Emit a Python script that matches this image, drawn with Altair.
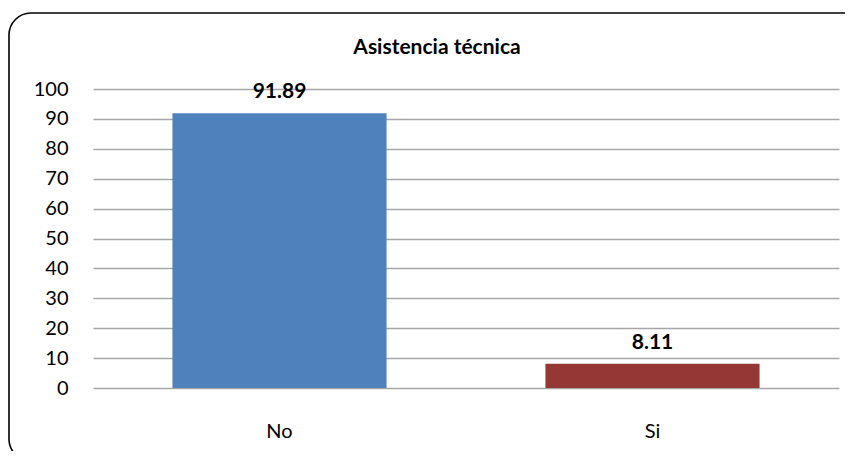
import altair as alt
import pandas as pd

categories = ["No", "Si"]
values = [91.89, 8.11]
labels = ["91.89", "8.11"]
colors = ["#4F81BD", "#953735"]
y_ticks = [0, 10, 20, 30, 40, 50, 60, 70, 80, 90, 100]

df = pd.DataFrame({"cat": categories, "val": values, "lab": labels, "col": colors})

FONT = "Lato"

x = alt.X("cat:N", sort=categories, title=None,
          scale=alt.Scale(paddingInner=0.426, paddingOuter=0.213),
          axis=alt.Axis(labelAngle=0, labelPadding=33, labelFontSize=20, labelFont=FONT,
                        labelColor="#000000", ticks=False, domain=False, grid=False, zindex=1))
y = alt.Y("val:Q", title=None,
          scale=alt.Scale(domain=[0, 100], nice=False),
          axis=alt.Axis(values=y_ticks, labelPadding=25, labelFontSize=20, labelOverlap=False,
                        labelFont=FONT, labelColor="#000000", ticks=False, domain=False,
                        grid=True, gridColor="#a6a6a6", gridWidth=1.3, zindex=0))

frame = alt.Chart(pd.DataFrame({"a": [0]})).mark_rect(
    fill="white", fillOpacity=0, stroke="#000000", strokeWidth=1.6, cornerRadius=22
).encode(x=alt.value(-84), x2=alt.value(775), y=alt.value(-76), y2=alt.value(372))

bars = alt.Chart(df).mark_bar().encode(
    x=x, y=y, color=alt.Color("col:N", scale=None)
)

text = alt.Chart(df).mark_text(
    baseline="alphabetic", dy=-15, fontSize=21, fontWeight="bold", font=FONT, color="#000000"
).encode(x=x, y=y, text="lab:N")

title = alt.Chart(pd.DataFrame({"t": ["Asistencia técnica"]})).mark_text(
    fontSize=21, fontWeight="bold", font=FONT, color="#000000", baseline="middle", align="center"
).encode(x=alt.value(344), y=alt.value(-41), text="t:N")

chart = alt.layer(frame, bars, text, title).properties(
    width=746, height=299,
    autosize=alt.AutoSizeParams(type="none"),
    padding={"left": 85, "top": 81, "right": 6, "bottom": 63},
    background="white",
).configure_view(stroke=None)

chart.save("out.html", embed_options={"renderer": "svg", "actions": False})
